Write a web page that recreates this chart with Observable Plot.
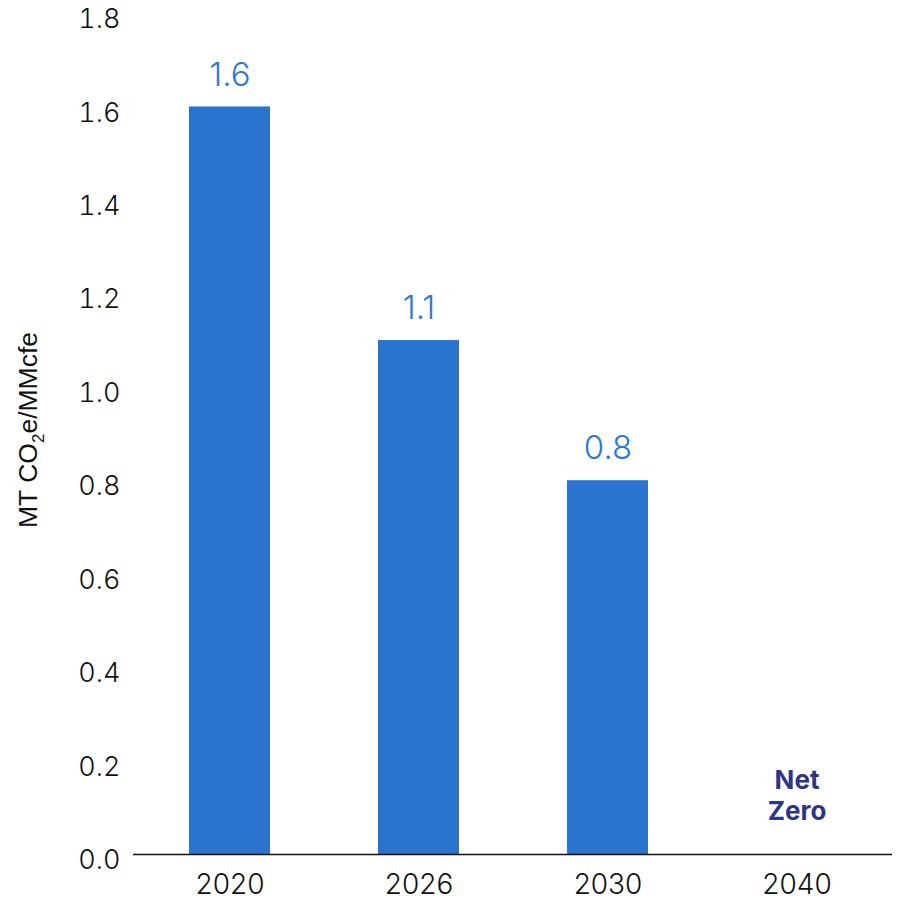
<!DOCTYPE html>
<html><head><meta charset="utf-8">
<script src="https://cdn.jsdelivr.net/npm/d3@7"></script>
<script src="https://cdn.jsdelivr.net/npm/@observablehq/plot@0.6"></script>
<style>
body{margin:0;background:#fff;}
svg{display:block;}
</style></head>
<body><div id="chart"></div>
<script>
const years = ["2020", "2026", "2030", "2040"];
const values = [1.6, 1.1, 0.8, 0];
const valueLabels = ["1.6", "1.1", "0.8", ""];
const yTicks = [0, 0.2, 0.4, 0.6, 0.8, 1.0, 1.2, 1.4, 1.6, 1.8];
const noteYear = "2040";
const noteLines = ["Net", "Zero"];
const noteValues = [0.158, 0.092];

const data = years.map((y, i) => ({year: y, value: values[i], label: valueLabels[i]}));
const notes = noteLines.map((t, i) => ({year: noteYear, v: noteValues[i], t}));

const chart = Plot.plot({
  width: 898, height: 901,
  marginLeft: 133, marginRight: 6, marginTop: 13, marginBottom: 47,
  style: {fontFamily: "Inter, sans-serif", fontSize: "27px", color: "#111", background: "#fff"},
  x: {domain: years, paddingInner: 0.573, paddingOuter: 0.2865, label: null},
  y: {domain: [0, 1.8], label: null},
  marks: [
    Plot.barY(data.filter(d => d.value > 0), {x: "year", y: "value", fill: "#2a73cf"}),
    Plot.ruleY([0], {stroke: "#111", strokeWidth: 1.5}),
    Plot.axisX({tickSize: 0, tickPadding: 20, fontSize: 28, fill: "#111", fontWeight: 300, letterSpacing: "2.5px"}),
    Plot.axisY({ticks: yTicks, tickSize: 0, tickPadding: 13, dy: 6, tickFormat: d => d.toFixed(1), fontSize: 27, fill: "#111", fontWeight: 300, label: null}),
    Plot.text(data.filter(d => d.label), {x: "year", y: "value", text: "label", dy: -32, fill: "#2f78d4", fontSize: 33, fontWeight: 300}),
    Plot.text(notes, {x: "year", y: "v", text: "t", fill: "#2d3686", fontWeight: "bold", fontSize: 26})
  ]
});
const svg = d3.select(chart);
svg.append("text")
  .attr("transform", "translate(37,430) rotate(-90)")
  .attr("text-anchor", "middle")
  .attr("font-family", "'Liberation Sans', Arial, sans-serif")
  .attr("font-size", 26.5)
  .attr("fill", "#111")
  .call(t => {
    t.append("tspan").text("MT CO");
    t.append("tspan").attr("font-size", 17).attr("dy", 7).text("2");
    t.append("tspan").attr("dy", -7).text("e/MMcfe");
  });
document.getElementById("chart").append(chart);
</script></body></html>
